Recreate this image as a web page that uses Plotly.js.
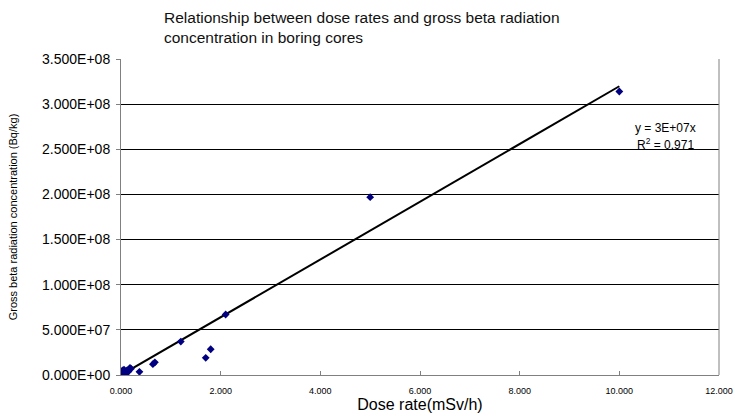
<!DOCTYPE html>
<html>
<head>
<meta charset="utf-8">
<script src="https://cdn.plot.ly/plotly-3.0.1.min.js"></script>
<style>html,body{margin:0;padding:0;background:#fff;}#chart{width:735px;height:416px;}</style>
</head>
<body>
<div id="chart"></div>
<script>
// Dose rate (x) and gross beta concentration (y)
const doseRate = [5, 10, 20, 30, 40, 50, 60, 80, 100, 120, 150, 180, 200, 370, 640, 680, 1200, 1700, 1800, 2100, 5000, 10000];
const betaConc = [5e5, 1e6, 3e5, 5e6, 4e6, 2e6, 6e6, 3e6, 1.5e6, 5e6, 4e6, 8e6, 7e6, 3.5e6, 1.2e7, 1.4e7, 3.7e7, 1.9e7, 2.85e7, 6.7e7, 1.97e8, 3.14e8];

const xTickVals = [0, 2000, 4000, 6000, 8000, 10000, 12000];
const xTickLabels = ["0.000", "2.000", "4.000", "6.000", "8.000", "10.000", "12.000"];
const yTickVals = [0, 5e7, 1e8, 1.5e8, 2e8, 2.5e8, 3e8, 3.5e8];
const yTickLabels = ["0.000E+00", "5.000E+07", "1.000E+08", "1.500E+08", "2.000E+08", "2.500E+08", "3.000E+08", "3.500E+08"];

// Linear trend through origin (least squares)
let sxy = 0, sxx = 0;
for (let i = 0; i < doseRate.length; i++) { sxy += doseRate[i] * betaConc[i]; sxx += doseRate[i] * doseRate[i]; }
const slope = sxy / sxx;
const trendX = [0, Math.max(...doseRate)];
const trendY = trendX.map(v => v * slope);

const font = "Liberation Sans, Arial, sans-serif";

const data = [
  { x: trendX, y: trendY, mode: "lines", line: { color: "#000", width: 2 }, hoverinfo: "skip", showlegend: false },
  { x: doseRate, y: betaConc, mode: "markers", marker: { symbol: "diamond", color: "#000080", size: 6 }, showlegend: false }
];

const layout = {
  width: 735, height: 416,
  margin: { l: 121, r: 16, t: 59, b: 41 },
  paper_bgcolor: "#fff", plot_bgcolor: "#fff",
  font: { family: font, color: "#000" },
  title: {
    text: "Relationship between dose rates and gross beta radiation<br>concentration in boring cores",
    x: 164 / 735, xanchor: "left", xref: "container",
    y: 1 - 23 / 416, yanchor: "top", yref: "container",
    font: { size: 15.5, color: "#111" }
  },
  xaxis: {
    range: [0, 12000], tickvals: xTickVals, ticktext: xTickLabels,
    showgrid: false, zeroline: false, showline: true, linecolor: "#808080", linewidth: 1, mirror: false,
    ticks: "inside", ticklen: 4, tickcolor: "#808080",
    ticklabelstandoff: 7,
    tickfont: { size: 9, color: "#000" },
    title: { text: "Dose rate(mSv/h)", font: { size: 16, color: "#000" }, standoff: 3 }
  },
  yaxis: {
    range: [0, 3.5e8], tickvals: yTickVals, ticktext: yTickLabels,
    showgrid: true, gridcolor: "#000", gridwidth: 1, zeroline: false,
    showline: true, linecolor: "#808080", linewidth: 1,
    ticks: "outside", ticklen: 4, tickcolor: "#808080",
    ticklabelstandoff: 3,
    tickfont: { size: 14, color: "#000" },
    title: { text: "Gross beta radiation concentration (Bq/kg)", font: { size: 11, color: "#000" }, standoff: 22 }
  },
  shapes: [
    { type: "line", xref: "paper", yref: "paper", x0: 1, x1: 1, y0: 0, y1: 1, line: { color: "#808080", width: 1 } }
  ],
  annotations: [
    { xref: "paper", yref: "paper", x: (665 - 121) / 598, y: (375 - 128) / 316, text: "y = 3E+07x", showarrow: false, font: { size: 12, color: "#000" }, xanchor: "center", yanchor: "middle" },
    { xref: "paper", yref: "paper", x: (665 - 121) / 598, y: (375 - 144) / 316, text: "R<sup>2</sup> = 0.971", showarrow: false, font: { size: 12, color: "#000" }, xanchor: "center", yanchor: "middle" }
  ]
};

Plotly.newPlot("chart", data, layout, { displayModeBar: false, staticPlot: true });
</script>
</body>
</html>
